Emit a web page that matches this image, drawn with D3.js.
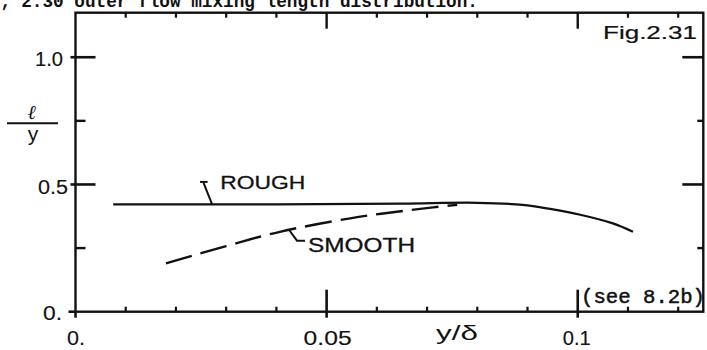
<!DOCTYPE html>
<html><head><meta charset="utf-8">
<script src="https://cdn.jsdelivr.net/npm/d3@7"></script>
<style>
html,body{margin:0;padding:0;background:#fff;}
svg{display:block;}
text{fill:#111;}
</style></head>
<body>
<svg id="c" width="707" height="350"></svg>
<script>
// ---- data ----
const roughX = [0.0075, 0.04, 0.065, 0.08, 0.089, 0.0945, 0.1005, 0.107, 0.111];
const roughY = [0.422, 0.422, 0.425, 0.428, 0.420, 0.404, 0.381, 0.347, 0.314];
const smoothX = [0.018, 0.03, 0.0407, 0.0547, 0.0632, 0.0712, 0.076];
const smoothY = [0.190, 0.258, 0.314, 0.367, 0.391, 0.410, 0.420];
const xMajorTicks = [0.05, 0.1];
const xMinorTicks = [0.01, 0.02, 0.03, 0.04, 0.06, 0.07, 0.08, 0.09, 0.11, 0.12];
const yMajorTicks = [0.5, 1.0];
const yMinorTicks = [0.25, 0.75];
const xTickLabels = [{v: 0, t: "0."}, {v: 0.05, t: "0.05"}, {v: 0.1, t: "0.1"}];
const yTickLabels = [{v: 0, t: "0."}, {v: 0.5, t: "0.5"}, {v: 1.0, t: "1.0"}];

const svg = d3.select("#c");
const L = 75.5, R = 703.3, T = 12.7, B = 311.7;
const x = d3.scaleLinear().domain([0, 0.125]).range([L, R]);
const y = d3.scaleLinear().domain([0, 1.175]).range([B, T]);
const ink = "#111";
const font = "'Liberation Sans', Arial, sans-serif";
const mono = "'Liberation Mono', 'Courier New', monospace";

// caption (cut off at top, as in the reference)
svg.append("text").attr("x", 0).attr("y", 7)
  .attr("font-family", mono).attr("font-size", 19).attr("font-weight", "bold")
  .attr("textLength", 478).attr("lengthAdjust", "spacingAndGlyphs")
  .text("; 2.30 outer flow mixing length distribution.");

// frame
svg.append("rect").attr("x", L).attr("y", T).attr("width", R - L).attr("height", B - T)
  .attr("fill", "none").attr("stroke", ink).attr("stroke-width", 2.4);

const g = svg.append("g").attr("stroke", ink).attr("stroke-linecap", "butt");
g.selectAll(".bmin").data(xMinorTicks).join("line")
  .attr("x1", d => x(d)).attr("x2", d => x(d)).attr("y1", B).attr("y2", B - 5).attr("stroke-width", 2.2);
g.selectAll(".bmaj").data(xMajorTicks).join("line")
  .attr("x1", d => x(d)).attr("x2", d => x(d)).attr("y1", B + 6).attr("y2", B - 22).attr("stroke-width", 2.6);
g.selectAll(".tmin").data(xMinorTicks).join("line")
  .attr("x1", d => x(d)).attr("x2", d => x(d)).attr("y1", T).attr("y2", T + 5).attr("stroke-width", 2.2);
g.selectAll(".tmaj").data(xMajorTicks).join("line")
  .attr("x1", d => x(d)).attr("x2", d => x(d)).attr("y1", T).attr("y2", T + 16).attr("stroke-width", 2.4);
g.selectAll(".lmaj").data(yMajorTicks).join("line")
  .attr("x1", L - 5).attr("x2", L + 20).attr("y1", d => y(d)).attr("y2", d => y(d)).attr("stroke-width", 2.6);
g.selectAll(".lmin").data(yMinorTicks).join("line")
  .attr("x1", L).attr("x2", L + 10).attr("y1", d => y(d)).attr("y2", d => y(d)).attr("stroke-width", 2.4);
g.selectAll(".rmaj").data(yMajorTicks).join("line")
  .attr("x1", R).attr("x2", R - 21).attr("y1", d => y(d)).attr("y2", d => y(d)).attr("stroke-width", 2.6);
g.selectAll(".rmin").data(yMinorTicks).join("line")
  .attr("x1", R).attr("x2", R - 6).attr("y1", d => y(d)).attr("y2", d => y(d)).attr("stroke-width", 2.4);
g.append("line").attr("x1", x(0)).attr("x2", x(0)).attr("y1", B).attr("y2", B + 6).attr("stroke-width", 2.6);
g.append("line").attr("x1", x(0) - 7).attr("x2", x(0)).attr("y1", y(0)).attr("y2", y(0)).attr("stroke-width", 2.6);

// tick labels
const yLabelPos = {0: {xs: 43, w: 19, dy: 8.5}, 0.5: {xs: 38, w: 30, dy: 9.5}, 1: {xs: 35, w: 28, dy: 8.8}};
svg.selectAll(".ylab").data(yTickLabels).join("text")
  .attr("x", d => yLabelPos[d.v].xs).attr("y", d => y(d.v) + yLabelPos[d.v].dy)
  .attr("textLength", d => yLabelPos[d.v].w).attr("lengthAdjust", "spacingAndGlyphs")
  .attr("font-family", font).attr("font-size", 20)
  .attr("stroke", ink).attr("stroke-width", 0.15).text(d => d.t);
const xLabelPos = {0: {dx: -8.5, w: 18}, 0.05: {dx: -23, w: 48}, 0.1: {dx: -15, w: 28}};
svg.selectAll(".xlab").data(xTickLabels).join("text")
  .attr("x", d => x(d.v) + xLabelPos[d.v].dx).attr("y", 345)
  .attr("textLength", d => xLabelPos[d.v].w).attr("lengthAdjust", "spacingAndGlyphs")
  .attr("font-family", font).attr("font-size", 21)
  .attr("stroke", ink).attr("stroke-width", 0.15).text(d => d.t);

// axis titles
svg.append("text").attr("x", 436).attr("y", 340)
  .attr("textLength", 42).attr("lengthAdjust", "spacingAndGlyphs")
  .attr("font-family", font).attr("font-size", 21).text("y/δ");
svg.append("line").attr("x1", 7).attr("x2", 58).attr("y1", 123.3).attr("y2", 123.3)
  .attr("stroke", ink).attr("stroke-width", 2);
svg.append("text").attr("x", 32).attr("y", 119).attr("text-anchor", "middle")
  .attr("font-family", "'DejaVu Serif', serif").attr("font-style", "italic").attr("font-weight", "bold")
  .attr("font-size", 20).text("ℓ");
svg.append("text").attr("x", 33).attr("y", 141).attr("text-anchor", "middle")
  .attr("font-family", font).attr("font-size", 21).text("y");

// figure number
svg.append("text").attr("x", 603).attr("y", 39)
  .attr("font-family", font).attr("font-size", 19)
  .attr("stroke", ink).attr("stroke-width", 0.2)
  .attr("textLength", 94).attr("lengthAdjust", "spacingAndGlyphs").text("Fig.2.31");

// (see 8.2b)
svg.append("text").attr("x", 581).attr("y", 303)
  .attr("font-family", mono).attr("font-size", 20)
  .attr("stroke", ink).attr("stroke-width", 0.5)
  .attr("textLength", 124).attr("lengthAdjust", "spacingAndGlyphs").text("(see 8.2b)");

// curves
const line = d3.line().x(d => x(d[0])).y(d => y(d[1])).curve(d3.curveCatmullRom.alpha(0.5));
svg.append("path").datum(d3.zip(roughX, roughY)).attr("d", line)
  .attr("fill", "none").attr("stroke", ink).attr("stroke-width", 2.3);
svg.append("path").datum(d3.zip(smoothX, smoothY)).attr("d", line)
  .attr("fill", "none").attr("stroke", ink).attr("stroke-width", 2.4)
  .attr("stroke-dasharray", "27,9");

// annotations (data coords)
const roughLeader = [[0.0248, 0.510], [0.0263, 0.510], [0.0255, 0.506], [0.0272, 0.422]];
const smoothLeader = [[0.0425, 0.322], [0.0441, 0.279], [0.0457, 0.279]];
const pl = d3.line().x(d => x(d[0])).y(d => y(d[1]));
svg.append("path").attr("d", pl(roughLeader.slice(0, 2))).attr("stroke", ink).attr("stroke-width", 2).attr("fill", "none");
svg.append("path").attr("d", pl(roughLeader.slice(2))).attr("stroke", ink).attr("stroke-width", 2).attr("fill", "none");
svg.append("path").attr("d", pl(smoothLeader)).attr("stroke", ink).attr("stroke-width", 2).attr("fill", "none");
svg.append("text").attr("x", x(0.0288)).attr("y", y(0.484))
  .attr("font-family", font).attr("font-size", 19)
  .attr("stroke", ink).attr("stroke-width", 0.3)
  .attr("textLength", 85).attr("lengthAdjust", "spacingAndGlyphs").text("ROUGH");
svg.append("text").attr("x", x(0.0463)).attr("y", y(0.236))
  .attr("font-family", font).attr("font-size", 20)
  .attr("stroke", ink).attr("stroke-width", 0.3)
  .attr("textLength", 107).attr("lengthAdjust", "spacingAndGlyphs").text("SMOOTH");
</script>
</body></html>
